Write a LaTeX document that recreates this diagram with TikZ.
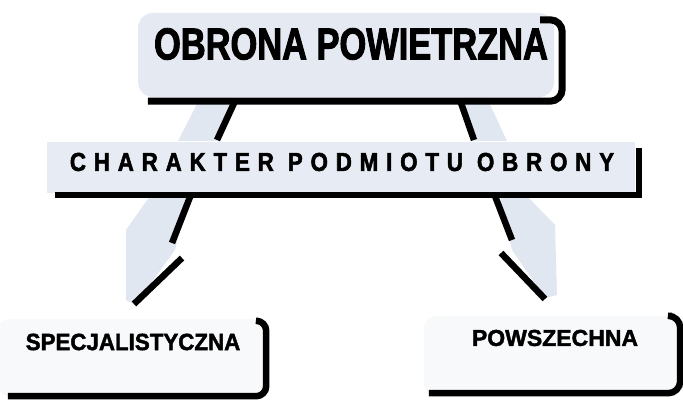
\documentclass[tikz,border=0pt]{standalone}
\usepackage{fontspec}
\setmainfont{Liberation Sans}
\newfontfamily\titlef{Liberation Sans Bold}[FakeStretch=0.77,FakeBold=2]
\newfontfamily\barf{Liberation Sans Bold}[FakeStretch=0.86,LetterSpace=30,FakeBold=2]
\newfontfamily\leaff{Liberation Sans Bold}[FakeStretch=0.95,FakeBold=1.8]
\newfontfamily\leafr{Liberation Sans Bold}[FakeBold=1.8]
\usetikzlibrary{calc}
\definecolor{boxfill}{HTML}{E4E9F2}
\definecolor{barfill}{HTML}{E7ECF4}
\definecolor{leaffill}{HTML}{F8F9FB}
\definecolor{ghost}{HTML}{E1E7F1}
\begin{document}
\begin{tikzpicture}[x=1pt,y=-1pt,
  boxbase/.style={draw=none,inner sep=0pt},
  shadowline/.style={line width=7pt,line cap=butt,black},
  conn/.style={line width=6.5pt,line cap=butt,black},
  ghostarrow/.style={fill=ghost,draw=none}]
\useasboundingbox (0,0) rectangle (683,401);
\fill[white] (0,0) rectangle (683,401);
% faint background arrows
\fill[ghostarrow] (200,98) -- (232,98) -- (217,141) -- (178,141) -- cycle;
\fill[ghostarrow] (460,98) -- (487,98) -- (507,141) -- (474,141) -- cycle;
\fill[ghostarrow] (150,196) -- (188,196) -- (175,250) -- (135,305) -- (126,300) -- (126,230) -- cycle;
\fill[ghostarrow] (500,196) -- (527,196) -- (555,225) -- (557,295) -- (545,298) -- (512,250) -- cycle;
% boxes
\node[boxbase,fill=boxfill,rounded corners=15pt,minimum width=416pt,minimum height=84pt] (top) at (346,55) {};
\node[font=\titlef\fontsize{44.7}{50}\selectfont,inner sep=0pt] (toptext) at (351,44) {OBRONA POWIETRZNA};
\node[boxbase,fill=barfill,minimum width=588pt,minimum height=51pt] (mid) at (341,167.5) {};
\node[font=\barf\fontsize{26}{30}\selectfont,inner sep=0pt] (midtext) at (342,162) {CHARAKTER PODMIOTU OBRONY};
\node[boxbase,fill=leaffill,rounded corners=12pt,minimum width=268pt,minimum height=78pt] (left) at (132,358) {};
\node[font=\leaff\fontsize{23.5}{28}\selectfont,inner sep=0pt] (lefttext) at (133,342) {SPECJALISTYCZNA};
\node[boxbase,fill=leaffill,rounded corners=12pt,minimum width=256pt,minimum height=80pt] (right) at (552,356) {};
\node[font=\leafr\fontsize{23}{28}\selectfont,inner sep=0pt] (righttext) at (555,338) {POWSZECHNA};
% shadows
\draw[shadowline,rounded corners=12pt] ($(top.north east)+(-14,7)$) -- ($(top.north east)+(8,7)$) -- ($(top.south east)+(8,4)$) -- ($(top.south west)+(10,4)$);
\draw[line width=5.5pt,black] ($(mid.north east)+(4,6)$) -- ($(mid.south east)+(4,1.5)$);
\draw[line width=6pt,black] ($(mid.south east)+(6.5,1.5)$) -- ($(mid.south west)+(8,1.5)$);
\draw[line width=6.5pt,black,rounded corners=10pt] ($(left.north east)+(-8,2)$) -- ($(left.north east)+(0,2)$) -- ($(left.south east)+(0,-1)$) -- ($(left.south west)+(10,-1)$);
\draw[line width=6.5pt,black,rounded corners=12pt] ($(right.north east)+(-8,0)$) -- ($(right.north east)+(0,0)$) -- ($(right.south east)+(0,-3)$) -- ($(right.south west)+(5,-3)$);
% connectors
\coordinate (a1) at (235,101);
\coordinate (a2) at (217,140);
\coordinate (b1) at (460,100);
\coordinate (b2) at (474,140);
\coordinate (c1) at (190,197);
\coordinate (c2) at (172,243);
\coordinate (c3) at (182,258);
\coordinate (c4) at (134,304);
\coordinate (d1) at (495,196);
\coordinate (d2) at (512,240);
\coordinate (d3) at (501,253);
\coordinate (d4) at (545,299);
\draw[conn] (a1) -- (a2);
\draw[conn] (b1) -- (b2);
\draw[conn] (c1) -- (c2);
\draw[conn] (c3) -- (c4);
\draw[conn] (d1) -- (d2);
\draw[conn] (d3) -- (d4);
\end{tikzpicture}
\end{document}
